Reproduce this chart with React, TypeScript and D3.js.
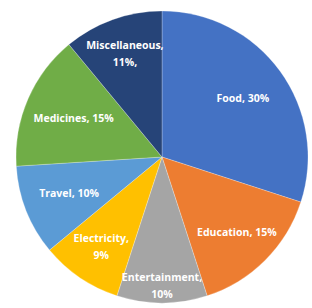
import React from "react";
import * as d3 from "d3";

const categories = ["Food", "Education", "Entertainment", "Electricity", "Travel", "Medicines", "Miscellaneous"];
const shares = [30, 15, 10, 9, 10, 15, 11];
const colors = ["#4472C4", "#ED7D31", "#A5A5A5", "#FFC000", "#5B9BD5", "#70AD47", "#264478"];
// labels that Excel broke onto two lines
const twoLine = ["Entertainment", "Electricity", "Miscellaneous"];
// how far out each label sits, as a share of the radius
const labelPos = [0.685, 0.725, 0.88, 0.74, 0.685, 0.66, 0.75];

export default function App() {
  const width = 312;
  const height = 308;
  const cx = 162;
  const cy = 157;
  const r = 146;

  const data = categories.map((c, i) => ({ cat: c, val: shares[i], color: colors[i], lp: labelPos[i] }));
  const pie = d3.pie<any>().value((d) => d.val).sort(null);
  const arcs = pie(data);
  const arc = d3.arc<any>().innerRadius(0).outerRadius(r);

  return (
    <svg width={width} height={height} style={{ position: "absolute", left: 0, top: 0 }}>
      <rect width={width} height={height} fill="#fff" />
      <g transform={`translate(${cx},${cy})`}>
        {arcs.map((a, i) => (
          <path key={i} d={arc(a) as string} fill={a.data.color} stroke="#fff" strokeOpacity={0.5} strokeWidth={0.5} />
        ))}
        {arcs.map((a, i) => {
          const rr = r * a.data.lp;
          const [x, y] = d3.arc<any>().innerRadius(rr).outerRadius(rr).centroid(a);
          const lines = twoLine.includes(a.data.cat)
            ? [a.data.cat + ",", a.data.val + "%" + (a.data.cat === "Miscellaneous" ? "," : "")]
            : [`${a.data.cat}, ${a.data.val}%`];
          const y0 = y - ((lines.length - 1) * 17) / 2;
          return lines.map((l, j) => (
            <text
              key={"t" + i + "-" + j}
              x={x}
              y={y0 + j * 17}
              dy="0.35em"
              textAnchor="middle"
              fill="#fff"
              fontFamily="'Open Sans', sans-serif"
              fontWeight="bold"
              fontSize={10.5}
            >
              {l}
            </text>
          ));
        })}
      </g>
    </svg>
  );
}
